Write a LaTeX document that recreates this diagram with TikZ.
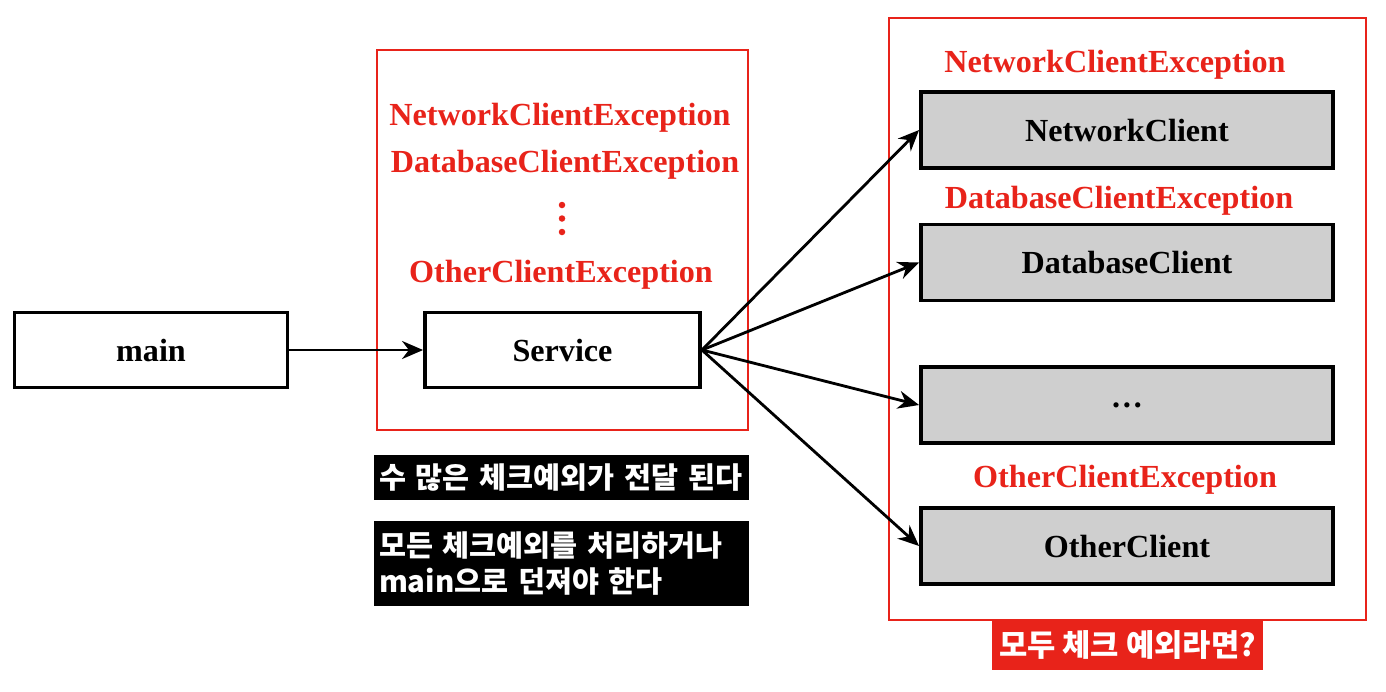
\documentclass[tikz,border=0pt]{standalone}
\usepackage{fontspec}
\setmainfont{Liberation Serif}
\newfontfamily\kofont{Noto Sans CJK KR}
\usepackage{tikz}
\usetikzlibrary{shapes.geometric, arrows.meta, positioning}

\definecolor{exred}{HTML}{E8231A}
\definecolor{boxgray}{HTML}{CFCFCF}

\begin{document}
\begin{tikzpicture}[
    block/.style={rectangle, draw, line width=2.2pt, fill=white, minimum width=5.46cm, minimum height=1.5cm, font=\fontsize{18.3}{21}\selectfont\bfseries},
    client/.style={block, fill=boxgray, minimum width=8.24cm, minimum height=1.52cm},
    exlabel/.style={text=exred, font=\fontsize{18.3}{21}\selectfont\bfseries, inner sep=1pt},
    frame/.style={draw=exred, line width=1.5pt},
    note/.style={fill=black, text=white, font=\kofont\bfseries\fontsize{16.7}{20}\selectfont, text width=7.3cm, align=left, inner sep=3pt, minimum width=7.5cm},
    line/.style={draw, -{Stealth[length=0.42cm, width=0.36cm]}, line width=1.6pt}]

    \useasboundingbox (0,0) rectangle (27.72,-13.82);

    % left frame
    \draw [frame] (7.54,-1.0) rectangle (14.96,-8.6);
    \node [block] (main) at (3.02,-7.0) {main};
    \node [block, minimum width=5.5cm] (service) at (11.25,-7.0) {Service};
    \node [exlabel] (netex) at (11.2,-2.36) {NetworkClientException};
    \node [exlabel] (dbex) at (11.3,-3.3) {DatabaseClientException};
    \foreach \y in {4.1,4.37,4.64}
        \fill [exred] (11.24,-\y) circle (0.065);
    \node [exlabel] (otherex) at (11.22,-5.5) {OtherClientException};

    \node [note, minimum height=0.9cm] (msgone) at (11.23,-9.55) {수 많은 체크예외가 전달 된다};
    \node [note, minimum height=1.7cm] (msgtwo) at (11.23,-11.27) {모든 체크예외를 처리하거나\\main으로 던져야 한다};

    % right frame
    \draw [frame] (17.78,-0.36) rectangle (27.32,-12.4);
    \node [client] (netclient) at (22.54,-2.6) {NetworkClient};
    \node [client] (dbclient) at (22.54,-5.25) {DatabaseClient};
    \node [client] (etcclient) at (22.54,-8.1) {\ldots};
    \node [client] (otherclient) at (22.54,-10.92) {OtherClient};
    \node [exlabel] at (22.3,-1.3) {NetworkClientException};
    \node [exlabel] at (22.38,-4.02) {DatabaseClientException};
    \node [exlabel] at (22.5,-9.6) {OtherClientException};

    \node [fill=exred, text=white, font=\kofont\bfseries\fontsize{17.5}{20}\selectfont, minimum width=5.42cm, minimum height=0.98cm] (question) at (22.55,-12.9) {모두 체크 예외라면?};

    \path [line] (main) -- (service);
    \path [line] (service.east) -- (netclient.west);
    \path [line] (service.east) -- (dbclient.west);
    \path [line] (service.east) -- (etcclient.west);
    \path [line] (service.east) -- (otherclient.west);
\end{tikzpicture}
\end{document}
